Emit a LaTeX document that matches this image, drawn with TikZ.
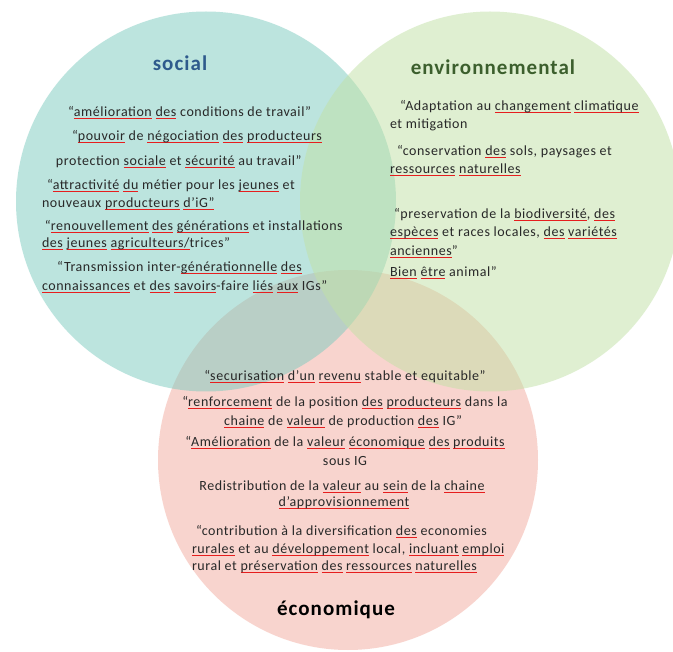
\documentclass[tikz,border=0pt]{standalone}
\usepackage{fontspec}
\setmainfont{Carlito}
\newfontfamily\bodyfont[LetterSpace=4]{Carlito}
\newfontfamily\titlefont[LetterSpace=5]{Carlito}
\definecolor{socfill}{RGB}{123,203,191}
\definecolor{envfill}{RGB}{193,225,165}
\definecolor{ecofill}{RGB}{243,171,159}
\definecolor{sqred}{RGB}{230,30,30}
\definecolor{txtcol}{RGB}{40,40,40}
\definecolor{soctitle}{RGB}{46,90,140}
\definecolor{envtitle}{RGB}{60,95,45}
\newcommand\sq[1]{\setbox0\hbox{#1}\rlap{\color{sqred}\rule[-2.4pt]{\wd0}{1pt}}\box0\relax}
\tikzset{
  venn/.style={fill opacity=0.5},
  line/.style={inner sep=0pt, outer sep=0pt, text=txtcol, font=\bodyfont\fontsize{14}{16}\selectfont},
  ttl/.style={inner sep=0pt, outer sep=0pt, font=\titlefont\bfseries\fontsize{21}{24}\selectfont}
}
\begin{document}
\begin{tikzpicture}[x=1pt,y=-1pt]
\useasboundingbox (0,0) rectangle (673,652);
\fill[white] (0,0) rectangle (673,652);
\begin{scope}
\clip (0,0) rectangle (673,652);
\fill[ecofill, venn] (348,460) circle[radius=190pt];
\fill[socfill, venn] (206,201.5) circle[radius=190pt];
\fill[envfill, venn] (490,201.5) circle[radius=190pt];
\end{scope}
% titles
\node[ttl, text=soctitle] (tsoc) at (180,63) {social};
\node[ttl, text=envtitle] (tenv) at (493,67) {environnemental};
\node[ttl, text=black] (teco) at (336,610) {économique};
% social
\node[line, anchor=base west] (s1) at (68,117) {“\sq{amélioration} \sq{des} conditions de travail”};
\node[line, anchor=base west] (s2) at (72,141) {“\sq{pouvoir} de \sq{négociation} \sq{des} \sq{producteurs}};
\node[line, anchor=base west] (s3) at (56,166) {protection \sq{sociale} et \sq{sécurité} au travail”};
\node[line, anchor=base west] (s4) at (47,190) {“\sq{attractivité} \sq{du} métier pour les \sq{jeunes} et};
\node[line, anchor=base west] (s5) at (42,208) {nouveaux \sq{producteurs} \sq{d’iG”}};
\node[line, anchor=base west] (s6) at (45,231) {“\sq{renouvellement} \sq{des} \sq{générations} et installations};
\node[line, anchor=base west] (s7) at (42,248) {\sq{des} \sq{jeunes} \sq{agriculteurs/}trices”};
\node[line, anchor=base west] (s8) at (57,272) {“Transmission inter-\sq{générationnelle} \sq{des}};
\node[line, anchor=base west] (s9) at (42,291) {\sq{connaissances} et \sq{des} \sq{savoirs}-faire \sq{liés} \sq{aux} IGs”};
% environnemental
\node[line, anchor=base west] (e1) at (400,111) {“Adaptation au \sq{changement} \sq{climatique}};
\node[line, anchor=base west] (e2) at (390,129) {et mitigation};
\node[line, anchor=base west] (e3) at (397,156) {“conservation \sq{des} sols, paysages et};
\node[line, anchor=base west] (e4) at (390,174) {\sq{ressources} \sq{naturelles}};
\node[line, anchor=base west] (e5) at (394,219) {“preservation de la \sq{biodiversité}, \sq{des}};
\node[line, anchor=base west] (e6) at (390,237) {\sq{espèces} et races locales, \sq{des} \sq{variétés}};
\node[line, anchor=base west] (e7) at (390,256) {\sq{anciennes}”};
\node[line, anchor=base west] (e8) at (390,277) {\sq{Bien} \sq{être} animal”};
% economique
\node[line, anchor=base] (c1) at (345,381) {“\sq{securisation} \sq{d’un} \sq{revenu} stable et equitable”};
\node[line, anchor=base] (c2) at (345,407) {“\sq{renforcement} de la position \sq{des} \sq{producteurs} dans la};
\node[line, anchor=base] (c3) at (343,426) {\sq{chaine} de \sq{valeur} de production \sq{des} IG”};
\node[line, anchor=base] (c4) at (345,447) {“\sq{Amélioration} de la \sq{valeur} \sq{économique} \sq{des} \sq{produits}};
\node[line, anchor=base] (c5) at (345,466) {sous IG};
\node[line, anchor=base] (c6) at (342,491) {Redistribution de la \sq{valeur} au \sq{sein} de la \sq{chaine}};
\node[line, anchor=base] (c7) at (344,507) {\sq{d’approvisionnement}};
\node[line, anchor=base west] (c8) at (196,536) {“contribution à la diversification \sq{des} economies};
\node[line, anchor=base west] (c9) at (192,554) {\sq{rurales} et au \sq{développement} local, \sq{incluant} \sq{emploi}};
\node[line, anchor=base west] (c10) at (192,571) {rural et \sq{préservation} \sq{des} \sq{ressources} \sq{naturelles}};
\end{tikzpicture}
\end{document}
